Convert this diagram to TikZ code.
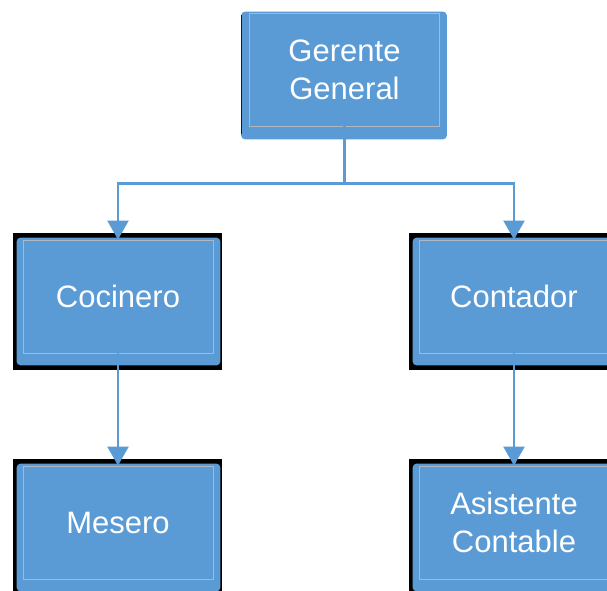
\documentclass[tikz,border=0pt]{standalone}
\usepackage{fontspec}
\setmainfont{Liberation Sans}
\usetikzlibrary{arrows.meta,backgrounds}
\definecolor{boxblue}{RGB}{91,155,213}
\definecolor{rimgray}{RGB}{175,182,192}

\tikzset{
  puesto/.style={draw=rimgray,line width=0.8pt,minimum width=190pt,minimum height=113pt,
    align=center,text=white,font=\fontsize{31}{38}\selectfont},
  enlace/.style={draw=boxblue,line width=2.2pt,-{Triangle[width=21pt,length=19pt]}}
}

\begin{document}
\begin{tikzpicture}[x=1pt,y=-1pt]
\useasboundingbox (0,0) rectangle (607,590);
\node[puesto](ger) at (344.5,69.5){Gerente\\General};
\node[puesto](coc) at (118,296.5){Cocinero};
\node[puesto](con) at (514,296.5){Contador};
\node[puesto](mes) at (118,522.5){Mesero};
\node[puesto](asi) at (514,522.5){Asistente\\Contable};

% cajas de fondo
\begin{scope}[on background layer]
\fill[boxblue,rounded corners=4pt] ([shift={(-8pt,1pt)}]ger.north west) rectangle ([shift={(7pt,-13pt)}]ger.south east);
\draw[blue!85!black,line width=1.5pt] ([shift={(-7.5pt,-2pt)}]ger.north west) -- ([shift={(-7.5pt,-8pt)}]ger.south west);
\foreach \n in {coc,con,mes,asi}{
  \fill[black] ([shift={(-10pt,7pt)}]\n.north west) rectangle ([shift={(9pt,-17pt)}]\n.south east);
  \fill[boxblue,rounded corners=4pt] ([shift={(-6pt,2pt)}]\n.north west) rectangle ([shift={(7pt,-12pt)}]\n.south east);
}
\end{scope}

\draw[enlace] (ger.south) -- ++(0,57) -| (coc.north);
\draw[enlace] (ger.south) -- ++(0,57) -| (con.north);
\draw[enlace] (coc.south) -- (mes.north);
\draw[enlace] (con.south) -- (asi.north);
\end{tikzpicture}
\end{document}
